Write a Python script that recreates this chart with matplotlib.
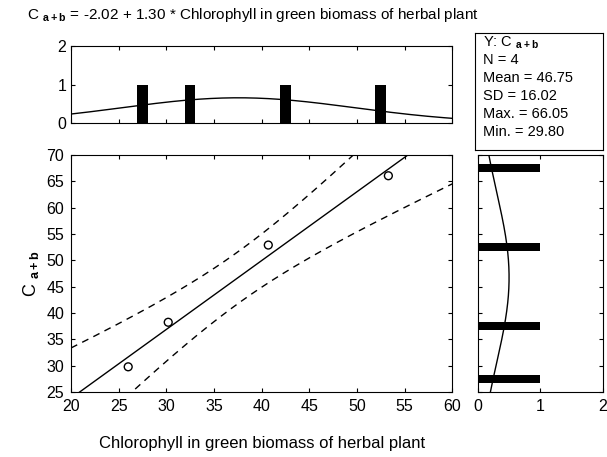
import numpy as np
import matplotlib
matplotlib.use('Agg')
import matplotlib.pyplot as plt

plt.rcParams['font.family'] = ['Liberation Sans', 'DejaVu Sans']
plt.rcParams['mathtext.fontset'] = 'custom'
plt.rcParams['mathtext.rm'] = 'Liberation Sans'
plt.rcParams['mathtext.bf'] = 'Liberation Sans:bold'

# data
chl = [26.0, 30.2, 40.7, 53.3]          # x: chlorophyll
cab = [29.8, 38.25, 52.9, 66.05]        # y: C a+b
title_txt = r'C $_{\mathbf{a+b}}$ = -2.02 + 1.30 * Chlorophyll in green biomass of herbal plant'
xlab = 'Chlorophyll in green biomass of herbal plant'
stats_lines = [r'Y: C $_{\mathbf{a+b}}$', 'N = 4', 'Mean = 46.75', 'SD = 16.02',
               'Max. = 66.05', 'Min. = 29.80']
t_crit = 4.303   # t(0.975, df=2)
bin_w = 5

x = np.array(chl)
y = np.array(cab)
n = len(x)
b, a = np.polyfit(x, y, 1)
resid = y - (a + b * x)
s = np.sqrt(np.sum(resid ** 2) / (n - 2))
sxx = np.sum((x - x.mean()) ** 2)

fig = plt.figure(figsize=(6.07, 4.57), dpi=100)

# main scatter
ax = fig.add_axes([0.117, 0.142, 0.628, 0.519])
xx = np.linspace(20, 60, 200)
fit = a + b * xx
half = t_crit * s * np.sqrt(1 / n + (xx - x.mean()) ** 2 / sxx)
ax.plot(xx, fit, color='black', lw=1)
ax.plot(xx, fit + half, color='black', lw=1, ls=(0, (5, 4)))
ax.plot(xx, fit - half, color='black', lw=1, ls=(0, (5, 4)))
ax.scatter(x, y, s=32, facecolors='none', edgecolors='black', linewidths=1, zorder=3)
ax.set_xlim(20, 60)
ax.set_ylim(25, 70)
ax.set_xticks(range(20, 61, 5))
ax.set_yticks(range(25, 71, 5))
ax.tick_params(direction='in', top=True, right=True, labelsize=11.5, length=3, pad=5)
ax.set_xlabel(xlab, fontsize=12, labelpad=16)
ax.set_ylabel(r'C $_{\mathbf{a+b}}$', fontsize=13, labelpad=4)

# top histogram of x
axt = fig.add_axes([0.117, 0.731, 0.628, 0.168])
edges = np.arange(20, 61, bin_w)
cnt, _ = np.histogram(x, edges)
centers = edges[:-1] + bin_w / 2
axt.bar(centers, cnt, width=1.1, color='black')
gx = np.linspace(20, 60, 200)
sdx = x.std(ddof=1)
axt.plot(gx, n * bin_w / (sdx * np.sqrt(2 * np.pi)) * np.exp(-0.5 * ((gx - x.mean()) / sdx) ** 2),
         color='black', lw=1)
axt.set_xlim(20, 60)
axt.set_ylim(0, 2)
axt.set_xticks(range(20, 61, 5))
axt.set_yticks([0, 1, 2])
axt.tick_params(direction='in', top=True, right=True, labelbottom=False, labelsize=11.5, length=3)

# right histogram of y
axr = fig.add_axes([0.7875, 0.142, 0.2055, 0.519])
yedges = np.arange(25, 71, bin_w)
ycnt, _ = np.histogram(y, yedges)
ycenters = yedges[:-1] + bin_w / 2
axr.barh(ycenters, ycnt, height=1.5, color='black')
gy = np.linspace(25, 70, 200)
sdy = y.std(ddof=1)
axr.plot(n * bin_w / (sdy * np.sqrt(2 * np.pi)) * np.exp(-0.5 * ((gy - y.mean()) / sdy) ** 2), gy,
         color='black', lw=1)
axr.set_xlim(0, 2)
axr.set_ylim(25, 70)
axr.set_xticks([0, 1, 2])
axr.set_yticks(range(25, 71, 5))
axr.tick_params(direction='in', top=True, right=True, labelleft=False, labelsize=11.5, length=3, pad=5)

# stats box
axs = fig.add_axes([0.7825, 0.672, 0.2105, 0.256])
axs.set_xticks([])
axs.set_yticks([])
for i, line in enumerate(stats_lines):
    axs.text(0.06, 0.92 - i * 0.153, line, transform=axs.transAxes, fontsize=10.5, va='center')

fig.text(0.044, 0.967, title_txt, fontsize=11, va='center')

fig.savefig('out.png', dpi=100)
